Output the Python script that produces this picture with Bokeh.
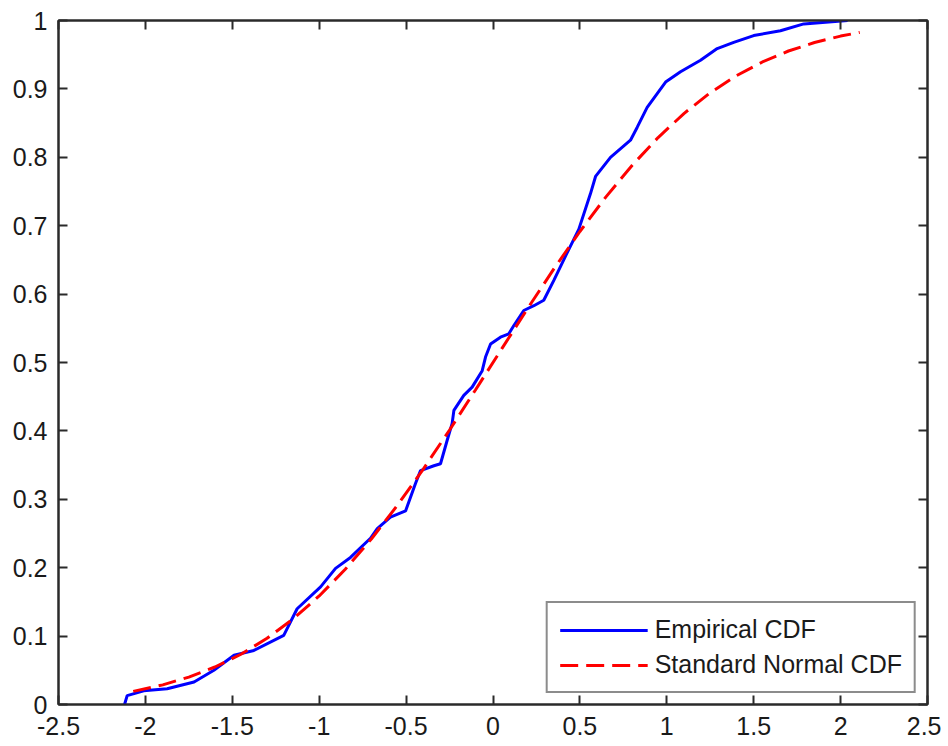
from bokeh.plotting import figure
from bokeh.models import LinearAxis, FixedTicker, Range1d, Legend, LegendItem
from bokeh.embed import file_html
from bokeh.resources import INLINE

# Empirical CDF
emp_x = [-2.12, -2.105, -2.01, -1.875, -1.72, -1.606, -1.49, -1.376, -1.204, -1.127,
         -0.992, -0.906, -0.82, -0.705, -0.666, -0.59, -0.503, -0.446, -0.417, -0.34,
         -0.302, -0.264, -0.235, -0.225, -0.168, -0.12, -0.062, -0.043, -0.014, 0.043,
         0.091, 0.12, 0.177, 0.235, 0.292, 0.35, 0.42, 0.494, 0.561, 0.59,
         0.676, 0.791, 0.83, 0.887, 0.993, 1.079, 1.194, 1.29, 1.385, 1.5,
         1.654, 1.788, 2.04]
emp_y = [0.0, 0.013, 0.020, 0.023, 0.033, 0.050, 0.072, 0.079, 0.101, 0.140,
         0.172, 0.199, 0.215, 0.243, 0.257, 0.274, 0.283, 0.323, 0.342, 0.349,
         0.352, 0.386, 0.411, 0.430, 0.452, 0.464, 0.488, 0.508, 0.527, 0.537,
         0.542, 0.554, 0.576, 0.583, 0.591, 0.620, 0.657, 0.695, 0.747, 0.772,
         0.800, 0.825, 0.844, 0.873, 0.910, 0.925, 0.942, 0.959, 0.968, 0.978,
         0.985, 0.995, 1.0]

# Standard normal CDF
norm_x = [-2.07, -1.9, -1.75, -1.6, -1.45, -1.3, -1.15, -1.0, -0.85, -0.7,
          -0.55, -0.4, -0.25, -0.1, 0.05, 0.2, 0.35, 0.5, 0.65, 0.8,
          0.95, 1.1, 1.25, 1.4, 1.55, 1.7, 1.85, 2.0, 2.11]
norm_y = [0.0192, 0.0287, 0.0401, 0.0548, 0.0735, 0.0968, 0.1251, 0.1587, 0.1977, 0.2420,
          0.2912, 0.3446, 0.4013, 0.4602, 0.5199, 0.5793, 0.6368, 0.6915, 0.7422, 0.7881,
          0.8289, 0.8643, 0.8944, 0.9192, 0.9394, 0.9554, 0.9678, 0.9772, 0.9826]

x_ticks = [-2.5, -2.0, -1.5, -1.0, -0.5, 0.0, 0.5, 1.0, 1.5, 2.0, 2.5]
x_tick_labels = ["-2.5", "-2", "-1.5", "-1", "-0.5", "0", "0.5", "1", "1.5", "2", "2.5"]
y_ticks = [0.0, 0.1, 0.2, 0.3, 0.4, 0.5, 0.6, 0.7, 0.8, 0.9, 1.0]
y_tick_labels = ["0", "0.1", "0.2", "0.3", "0.4", "0.5", "0.6", "0.7", "0.8", "0.9", "1"]

FONT = "Liberation Sans"
FS = "25px"
AXC = "#2a2a2a"

p = figure(frame_width=869, frame_height=684, output_backend="svg", toolbar_location=None,
           x_range=Range1d(-2.5, 2.5), y_range=Range1d(0, 1),
           x_axis_location=None, y_axis_location=None,
           min_border_left=58, min_border_top=20, min_border_right=14, min_border_bottom=34)
p.background_fill_color = "white"
p.border_fill_color = "white"
p.outline_line_color = AXC
p.outline_line_width = 2
p.xgrid.visible = False
p.ygrid.visible = False


def make_axis(ticks, labels, show_labels, standoff):
    ax = LinearAxis(ticker=FixedTicker(ticks=ticks))
    ax.axis_line_color = AXC
    ax.axis_line_width = 2
    ax.major_tick_line_color = AXC
    ax.major_tick_line_width = 2
    ax.major_tick_in = 9
    ax.major_tick_out = 0
    ax.minor_tick_line_color = None
    ax.major_label_text_font = FONT
    ax.major_label_text_color = "#1a1a1a"
    ax.major_label_text_font_size = FS
    ax.major_label_standoff = standoff
    if show_labels:
        ax.major_label_overrides = {t: l for t, l in zip(ticks, labels)}
    else:
        ax.major_label_overrides = {t: "" for t in ticks}
        ax.major_label_standoff = 0
    return ax

p.add_layout(make_axis(x_ticks, x_tick_labels, True, 12), "below")
p.add_layout(make_axis(y_ticks, y_tick_labels, True, 11), "left")
p.add_layout(make_axis(x_ticks, x_tick_labels, False, 0), "above")
p.add_layout(make_axis(y_ticks, y_tick_labels, False, 0), "right")

r_emp = p.line(emp_x, emp_y, line_color="#0000FF", line_width=3)
r_norm = p.line(norm_x, norm_y, line_color="#FF0000", line_width=3, line_dash="18 8")

legend = Legend(items=[LegendItem(label="Empirical CDF", renderers=[r_emp]),
                       LegendItem(label="Standard Normal CDF", renderers=[r_norm])],
                location="bottom_right")
legend.label_text_font = FONT
legend.label_text_font_size = FS
legend.label_text_color = "#1a1a1a"
legend.glyph_width = 88
legend.glyph_height = 28
legend.label_height = 28
legend.label_standoff = 7
legend.spacing = 6
legend.padding = 12
legend.margin = 11
legend.border_line_color = "#1a1a1a"
legend.border_line_width = 2
legend.background_fill_color = "white"
legend.background_fill_alpha = 1
p.add_layout(legend, "center")

open("out.html", "w").write(file_html(p, INLINE))
